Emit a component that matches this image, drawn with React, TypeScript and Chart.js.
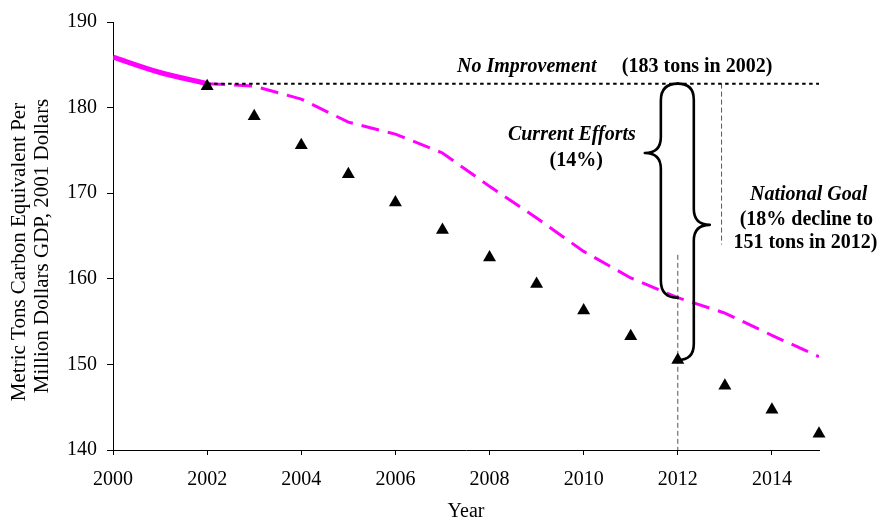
import React, { useEffect, useRef } from 'react';
import { Chart, registerables } from 'chart.js';

Chart.register(...registerables);

// ---- Data ----
const solidYears = [2000, 2001, 2002];
const solidValues = [185.9, 184.1, 182.8];

const currentEffortYears = [2002, 2003, 2004, 2005, 2006, 2007, 2008, 2009, 2010, 2011, 2012, 2013, 2014, 2015];
const currentEffortValues = [182.8, 182.5, 181.0, 178.3, 176.9, 174.7, 170.8, 167.1, 163.2, 160.1, 157.8, 156.0, 153.4, 150.9];

const goalYears = [2002, 2003, 2004, 2005, 2006, 2007, 2008, 2009, 2010, 2011, 2012, 2013, 2014, 2015];
const goalValues = [182.5, 179.0, 175.6, 172.2, 168.9, 165.7, 162.5, 159.4, 156.3, 153.3, 150.5, 147.5, 144.7, 141.9];

const noImprovementYears = [2002, 2015];
const noImprovementValue = 182.8;

// reference verticals
const refLineA = { year: 2012, from: 162.8, to: 140 };
const refLineB = { year: 2012.93, from: 182.8, to: 164.0 };

// braces in data units
const braces = [
  { x: 2011.64, meet: 2012, top: 182.8, tip: 174.7, bottom: 157.8, dir: -1 },
  { x: 2012.34, meet: 2012, top: 182.8, tip: 166.3, bottom: 150.5, dir: 1 },
];

const annotationTexts = [
  { text: 'No Improvement', x: 2008.79, y: 184.78, style: 'italic bold' },
  { text: '(183 tons in 2002)', x: 2012.41, y: 184.78, style: 'bold' },
  { text: 'Current Efforts', x: 2009.75, y: 176.82, style: 'italic bold' },
  { text: '(14%)', x: 2009.84, y: 173.82, style: 'bold' },
  { text: 'National Goal', x: 2014.78, y: 169.78, style: 'italic bold' },
  { text: '(18% decline to', x: 2014.73, y: 166.9, style: 'bold' },
  { text: '151 tons in 2012)', x: 2014.71, y: 164.24, style: 'bold' },
];

const yTitleLines = ['Metric Tons Carbon Equivalent Per', 'Million Dollars GDP, 2001 Dollars'];

const xMin = 2000;
const xMax = 2015;
const yMin = 140;
const yMax = 190;

const FONT = '"Liberation Serif", "Times New Roman", serif';

const toXY = (xs: number[], ys: number[]) => xs.map((x, i) => ({ x, y: ys[i] }));

const annotationPlugin = {
  id: 'annotations',
  afterDatasetsDraw(chart: any) {
    const { ctx, scales, chartArea } = chart;
    const xs = scales.x;
    const ys = scales.y;
    ctx.save();
    // braces
    ctx.strokeStyle = '#000';
    ctx.lineWidth = 2.6;
    ctx.lineJoin = 'round';
    ctx.lineCap = 'round';
    braces.forEach((b) => {
      const x = xs.getPixelForValue(b.x);
      const endX = xs.getPixelForValue(b.meet);
      const yt = ys.getPixelForValue(b.top);
      const yb = ys.getPixelForValue(b.bottom);
      const yp = ys.getPixelForValue(b.tip);
      const r = Math.abs(endX - x);
      const t = 16;
      ctx.beginPath();
      ctx.moveTo(endX, yt);
      ctx.quadraticCurveTo(x, yt, x, yt + r);
      ctx.lineTo(x, yp - t);
      ctx.quadraticCurveTo(x, yp, x + b.dir * t, yp);
      ctx.quadraticCurveTo(x, yp, x, yp + t);
      ctx.lineTo(x, yb - r);
      ctx.quadraticCurveTo(x, yb, endX, yb);
      ctx.stroke();
    });
    // texts
    ctx.fillStyle = '#000';
    ctx.textAlign = 'center';
    ctx.textBaseline = 'middle';
    annotationTexts.forEach((a) => {
      ctx.font = `${a.style} 20px ${FONT}`;
      ctx.fillText(a.text, xs.getPixelForValue(a.x), ys.getPixelForValue(a.y));
    });
    // y axis title (two lines, rotated)
    ctx.font = `21px ${FONT}`;
    const midY = (chartArea.top + chartArea.bottom) / 2;
    const lineX = [19.6, 42.2];
    const lineYOffset = [16, 10];
    yTitleLines.forEach((line, i) => {
      ctx.save();
      ctx.translate(lineX[i], midY + lineYOffset[i]);
      ctx.rotate(-Math.PI / 2);
      ctx.fillText(line, 0, 0);
      ctx.restore();
    });
    ctx.restore();
  },
};

export default function App() {
  const ref = useRef<HTMLCanvasElement | null>(null);

  useEffect(() => {
    if (!ref.current) return;
    const chart = new Chart(ref.current, {
      type: 'line',
      data: {
        datasets: [
          {
            label: 'Current Efforts (history)',
            data: toXY(solidYears, solidValues),
            borderColor: '#ff00ff',
            borderWidth: 5,
            pointRadius: 0,
            tension: 0.3,
            fill: false,
            order: 2,
          },
          {
            label: 'Current Efforts',
            data: toXY(currentEffortYears, currentEffortValues),
            borderColor: '#ff00ff',
            borderWidth: 3,
            borderDash: [18, 9],
            pointRadius: 0,
            tension: 0,
            fill: false,
            order: 2,
          },
          {
            label: 'No Improvement',
            data: noImprovementYears.map((x) => ({ x, y: noImprovementValue })),
            borderColor: '#000',
            borderWidth: 2,
            borderDash: [3.5, 3.5],
            pointRadius: 0,
            fill: false,
            order: 1,
          },
          {
            label: 'ref A',
            data: [{ x: refLineA.year, y: refLineA.from }, { x: refLineA.year, y: refLineA.to }],
            borderColor: '#555',
            borderWidth: 1,
            borderDash: [5, 3],
            pointRadius: 0,
            fill: false,
            order: 3,
          },
          {
            label: 'ref B',
            data: [{ x: refLineB.year, y: refLineB.from }, { x: refLineB.year, y: refLineB.to }],
            borderColor: '#555',
            borderWidth: 1,
            borderDash: [5, 3],
            pointRadius: 0,
            fill: false,
            order: 3,
          },
          {
            label: 'National Goal',
            data: toXY(goalYears, goalValues),
            showLine: false,
            pointStyle: 'triangle',
            pointRadius: 7.5,
            pointBackgroundColor: '#000',
            pointBorderColor: '#000',
            pointBorderWidth: 0,
            clip: false,
            order: 0,
          },
        ],
      },
      options: {
        animation: false,
        responsive: true,
        maintainAspectRatio: false,
        layout: { padding: { left: 0, right: 61, top: 17, bottom: 0 } },
        plugins: {
          legend: { display: false },
          tooltip: { enabled: false },
        },
        scales: {
          x: {
            type: 'linear',
            min: xMin,
            max: xMax,
            afterFit: (scale: any) => {
              scale.height = 70;
            },
            ticks: {
              stepSize: 2,
              includeBounds: false,
              color: '#000',
              padding: 13,
              font: { family: FONT, size: 20, lineHeight: 1.2 },
              callback: (v: any) => String(v),
            },
            grid: { display: true, drawOnChartArea: false, drawTicks: true, tickLength: 5, color: '#000' },
            border: { color: '#000', width: 1 },
            title: {
              display: true,
              text: 'Year',
              color: '#000',
              padding: 0,
              font: { family: FONT, size: 20, lineHeight: 0.8 },
            },
          },
          y: {
            min: yMin,
            max: yMax,
            afterFit: (scale: any) => {
              scale.width = 113;
            },
            ticks: {
              stepSize: 10,
              color: '#000',
              padding: 10,
              font: { family: FONT, size: 20 },
            },
            grid: { display: true, drawOnChartArea: false, drawTicks: true, tickLength: 6, color: '#000' },
            border: { color: '#000', width: 1 },
            title: { display: false },
          },
        },
      },
      plugins: [annotationPlugin],
    } as any);
    return () => chart.destroy();
  }, []);

  return (
    <div style={{ position: 'absolute', left: 0, top: 0, width: 880, height: 520, background: '#fff' }}>
      <canvas ref={ref} />
    </div>
  );
}
